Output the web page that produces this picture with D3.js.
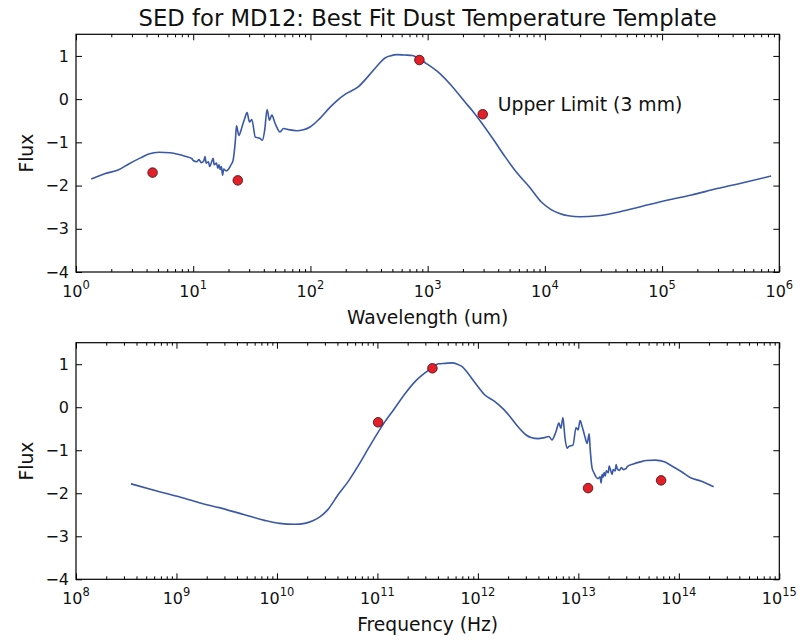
<!DOCTYPE html>
<html><head><meta charset="utf-8">
<script src="https://cdn.jsdelivr.net/npm/d3@7"></script>
<style>
html,body{margin:0;padding:0;background:#fff;}
svg{display:block;font-family:"DejaVu Sans",sans-serif;}
</style></head>
<body><svg id="c" width="804" height="643"></svg>
<script>
// ---- data ----
const titleText = "SED for MD12: Best Fit Dust Temperature Template";
const SPEED_OF_LIGHT_UM = 2.998e14; // um/s, used to convert wavelength -> frequency
// SED template (wavelength in um, log flux)
const wavelength = [1.35,1.78,2.29,2.82,3.55,4.17,5.13,6.31,7.24,8.51,9.77,
 10.0,10.7,11.2,11.7,12.3,12.6,12.9,13.5,13.8,14.5,14.8,15.1,15.8,16.2,16.6,17.0,17.4,17.8,18.2,19.1,20.0,20.9,21.9,
 22.9,23.4,24.5,25.7,26.3,27.5,28.8,30.2,31.6,33.9,37.2,38.9,40.7,42.7,44.7,46.8,50.1,55.0,58.9,66.1,75.9,87.1,
 100,120,148,166,200,257,316,380,427,479,550,631,741,851,955,1259,1585,2042,2512,3020,3715,4571,5754,7413,
 9333,11220,13180,15850,19950,28180,39800,63100,110000,178000,295000,501000,851000];
const flux = [-1.85,-1.72,-1.64,-1.50,-1.36,-1.27,-1.23,-1.24,-1.27,-1.32,-1.38,
 -1.42,-1.45,-1.40,-1.47,-1.43,-1.33,-1.48,-1.45,-1.56,-1.42,-1.37,-1.52,-1.48,-1.60,-1.52,-1.63,-1.56,-1.76,-1.62,-1.66,-1.62,-1.53,-1.41,
 -0.95,-0.62,-0.84,-0.70,-0.61,-0.45,-0.31,-0.53,-0.47,-0.88,-0.91,-0.95,-0.72,-0.24,-0.49,-0.37,-0.57,-0.76,-0.68,-0.71,-0.73,-0.71,
 -0.64,-0.45,-0.18,-0.05,0.12,0.29,0.55,0.80,0.94,1.00,1.03,1.02,1.01,0.93,0.84,0.60,0.32,-0.04,-0.33,-0.62,-0.97,-1.33,-1.70,-2.04,
 -2.38,-2.55,-2.64,-2.70,-2.72,-2.70,-2.63,-2.50,-2.34,-2.22,-2.07,-1.93,-1.78];
// Observed photometry
const obsWavelength = [4.5, 24, 850, 2950];
const obsFlux = [-1.70, -1.88, 0.905, -0.35];
const annotationText = "Upper Limit (3 mm)";
const yTicks = [-4,-3,-2,-1,0,1];
const topXExponents = [0,1,2,3,4,5,6];
const botXExponents = [8,9,10,11,12,13,14,15];
const topXLabel = "Wavelength (um)";
const botXLabel = "Frequency (Hz)";
const yLabel = "Flux";

// ---- drawing ----
const svg = d3.select("#c");
const L = 76, R = 779.3;
const panels = [
  {top:34.3, bottom:272, xDom:[1,1e6], exps:topXExponents, xLabel:topXLabel,
   line: wavelength.map((w,i)=>({x:w, y:flux[i]})),
   pts: obsWavelength.map((w,i)=>({x:w, y:obsFlux[i]})), annotate:true},
  {top:342.7, bottom:579.3, xDom:[1e8,1e15], exps:botXExponents, xLabel:botXLabel,
   line: wavelength.map((w,i)=>({x:SPEED_OF_LIGHT_UM/w, y:flux[i]})).reverse(),
   pts: obsWavelength.map((w,i)=>({x:SPEED_OF_LIGHT_UM/w, y:obsFlux[i]})), annotate:false}
];

svg.append("text").attr("x",(L+R)/2).attr("y",26).attr("text-anchor","middle")
  .attr("font-size",22.7).attr("fill","#111").text(titleText);

const minus = d => d < 0 ? "\u2212" + Math.abs(d) : String(d);

panels.forEach(p => {
  const x = d3.scaleLog().domain(p.xDom).range([L,R]);
  const y = d3.scaleLinear().domain([-4,1.5]).range([p.bottom,p.top]);
  const g = svg.append("g");
  const majors = p.exps.map(e => Math.pow(10,e));
  const minors = [];
  p.exps.slice(0,-1).forEach(e => { for (let k=2;k<10;k++) minors.push(k*Math.pow(10,e)); });

  const styleAxis = sel => { sel.select(".domain").remove(); sel.selectAll("line").attr("stroke","#000").attr("stroke-width",1); };
  g.append("g").attr("transform",`translate(0,${p.bottom})`)
    .call(d3.axisBottom(x).tickValues(majors).tickSize(-6).tickFormat("")).call(styleAxis);
  g.append("g").attr("transform",`translate(0,${p.bottom})`)
    .call(d3.axisBottom(x).tickValues(minors).tickSize(-3).tickFormat("")).call(styleAxis);
  g.append("g").attr("transform",`translate(0,${p.top})`)
    .call(d3.axisTop(x).tickValues(majors).tickSize(-6).tickFormat("")).call(styleAxis);
  g.append("g").attr("transform",`translate(0,${p.top})`)
    .call(d3.axisTop(x).tickValues(minors).tickSize(-3).tickFormat("")).call(styleAxis);
  const ya = g.append("g").attr("transform",`translate(${L},0)`)
    .call(d3.axisLeft(y).tickValues(yTicks).tickSize(-6).tickPadding(7).tickFormat(minus)).call(styleAxis);
  ya.selectAll("text").attr("font-size",16).attr("font-family","DejaVu Sans").attr("fill","#111");
  g.append("g").attr("transform",`translate(${R},0)`)
    .call(d3.axisRight(y).tickValues(yTicks).tickSize(-6).tickFormat("")).call(styleAxis);

  p.exps.forEach(e => {
    const t = g.append("text").attr("x", x(Math.pow(10,e))).attr("y", p.bottom+24.7)
      .attr("text-anchor","middle").attr("font-size",16).attr("fill","#111");
    t.append("tspan").text("10");
    t.append("tspan").attr("font-size",11.5).attr("dy",-8).text(String(e));
  });

  g.append("rect").attr("x",L).attr("y",p.top).attr("width",R-L).attr("height",p.bottom-p.top)
    .attr("fill","none").attr("stroke","#000").attr("stroke-width",1.2);

  g.append("text").attr("x",(L+R)/2).attr("y",p.bottom+52).attr("text-anchor","middle")
    .attr("font-size",18.7).attr("fill","#111").text(p.xLabel);
  const cy = (p.top+p.bottom)/2;
  g.append("text").attr("transform",`translate(33,${cy}) rotate(-90)`).attr("text-anchor","middle")
    .attr("font-size",18.7).attr("fill","#111").text(yLabel);

  g.append("path").datum(p.line)
    .attr("d", d3.line().curve(d3.curveMonotoneX).x(d=>x(d.x)).y(d=>y(d.y)))
    .attr("fill","none").attr("stroke","#3a58a8").attr("stroke-width",1.6).attr("stroke-linejoin","round");

  g.selectAll("circle.pt").data(p.pts).join("circle").attr("class","pt")
    .attr("cx",d=>x(d.x)).attr("cy",d=>y(d.y)).attr("r",4.8)
    .attr("fill","#e3202a").attr("stroke","#3a1010").attr("stroke-width",0.8);

  if (p.annotate) {
    const up = p.pts[3];
    g.append("text").attr("x", x(up.x)+15).attr("y", y(up.y)-3)
      .attr("font-size",18.8).attr("fill","#111").text(annotationText);
  }
});
</script></body></html>
